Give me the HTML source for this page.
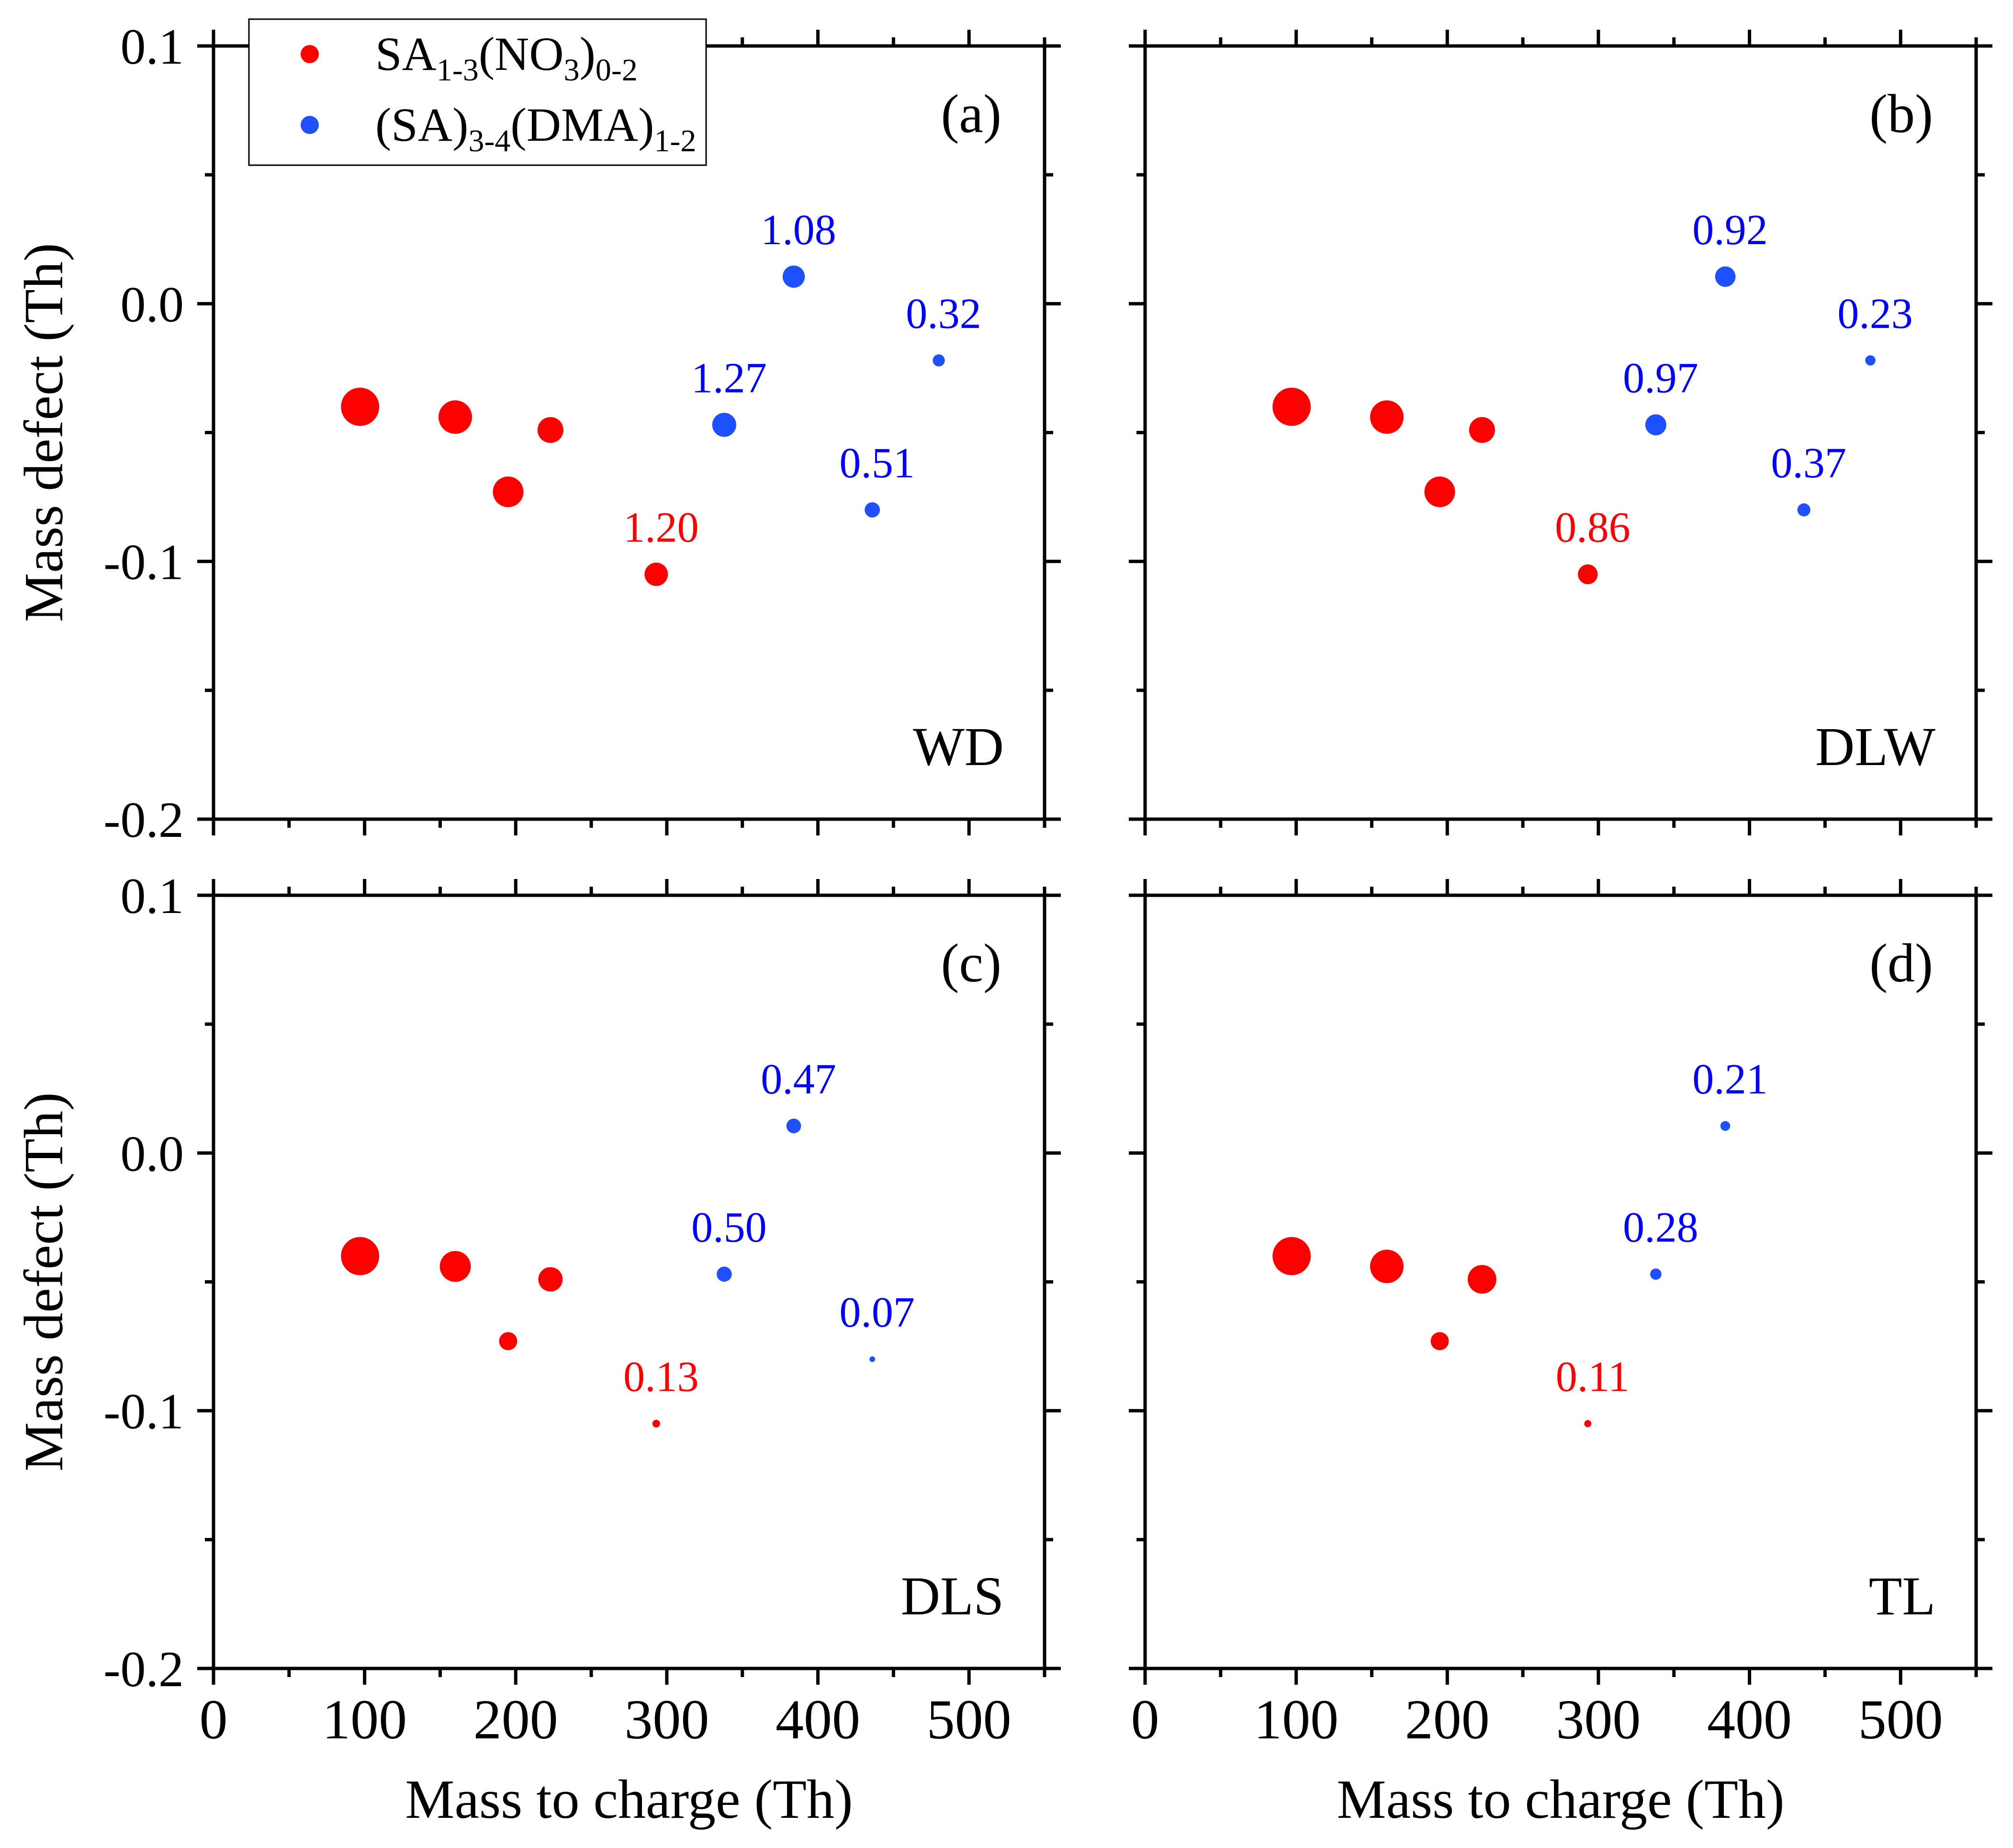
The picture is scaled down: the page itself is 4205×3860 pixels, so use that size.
<!DOCTYPE html>
<html><head><meta charset="utf-8"><title>Mass defect plots</title>
<style>html,body{margin:0;padding:0;background:#fff}svg{display:block}text{font-family:"Liberation Serif","Times New Roman",serif}</style>
</head><body>
<svg id="fig" width="4205" height="3860" viewBox="0 0 4205 3860" xmlns="http://www.w3.org/2000/svg" font-family="Liberation Serif, serif">
<g id="legend">
  <rect x="520" y="40" width="955" height="305" fill="#fff" stroke="#000" stroke-width="3"/>
  <circle cx="647" cy="113" r="19" fill="#ff0000"/>
  <text x="784" y="146" font-size="100">SA<tspan font-size="66" dy="22">1-3</tspan><tspan dy="-22">(NO</tspan><tspan font-size="66" dy="22">3</tspan><tspan dy="-22">)</tspan><tspan font-size="66" dy="22">0-2</tspan></text>
  <circle cx="647" cy="261" r="19" fill="#1e50ff"/>
  <text x="784" y="294" font-size="100">(SA)<tspan font-size="66" dy="22">3-4</tspan><tspan dy="-22">(DMA)</tspan><tspan font-size="66" dy="22">1-2</tspan></text>
</g>
</svg>
<script>
// ---- data ----
const mzValues = [97, 160, 195, 223, 293, 338, 384, 436, 480];
const massDefects = [-0.040, -0.044, -0.073, -0.049, -0.105, -0.047, 0.0105, -0.080, -0.022];
const seriesGroup = ['red','red','red','red','red','blue','blue','blue','blue'];
const valuesA = [3.2, 2.46, 2.06, 1.47, 1.20, 1.27, 1.08, 0.51, 0.32];
const valuesB = [3.2, 2.46, 2.06, 1.47, 0.86, 0.97, 0.92, 0.37, 0.23];
const valuesC = [3.2, 2.1, 0.72, 1.3, 0.13, 0.50, 0.47, 0.07, 0];
const valuesD = [3.2, 2.46, 0.72, 1.8, 0.11, 0.28, 0.21, 0, 0];
const labeledA = [false,false,false,false,true,true,true,true,true];
const labeledB = [false,false,false,false,true,true,true,true,true];
const labeledC = [false,false,false,false,true,true,true,true,false];
const labeledD = [false,false,false,false,true,true,true,false,false];
const xTickLabels = ['0','100','200','300','400','500'];
const yTickLabels = ['0.1','0.0','-0.1','-0.2'];
const panelNames = ['(a)','(b)','(c)','(d)'];
const siteNames = ['WD','DLW','DLS','TL'];

// ---- layout ----
const NS = 'http://www.w3.org/2000/svg';
const svg = document.getElementById('fig');
const legend = document.getElementById('legend');
const PW = 1736, PH = 1615;
const panels = [
  {x:446, y:96, vals:valuesA, lab:labeledA, ylab:true, xlab:false},
  {x:2392, y:96, vals:valuesB, lab:labeledB, ylab:false, xlab:false},
  {x:446, y:1870, vals:valuesC, lab:labeledC, ylab:true, xlab:true},
  {x:2392, y:1870, vals:valuesD, lab:labeledD, ylab:false, xlab:true}
];
const XMIN = 0, XMAX = 550, YMIN = -0.2, YMAX = 0.1;
const colors = {red:'#ff0000', blue:'#1e50ff'};
const textColors = {red:'#ff0000', blue:'#0000ff'};

function mk(tag, attrs, parent){
  const e = document.createElementNS(NS, tag);
  for (const k in attrs) e.setAttribute(k, attrs[k]);
  parent.appendChild(e);
  return e;
}

panels.forEach((p, pi) => {
  const sx = v => p.x + (v - XMIN) / (XMAX - XMIN) * PW;
  const sy = v => p.y + (YMAX - v) / (YMAX - YMIN) * PH;
  const g = mk('g', {}, svg);
  
  
  const L = p.x, R = p.x + PW, T = p.y, B = p.y + PH;
  const frame = mk('rect', {x:L, y:T, width:PW, height:PH, fill:'none', stroke:'#000', 'stroke-width':7}, g);
  
  
  for (let v = 0; v <= 550; v += 50) {
    const major = v % 100 === 0;
    const len = major ? 34 : 18;
    const x = sx(v);
    const tb = mk('line', {x1:x, y1:B, x2:x, y2:B+len, stroke:'#000', 'stroke-width':7}, g);
    
    
    const tt = mk('line', {x1:x, y1:T, x2:x, y2:T-len, stroke:'#000', 'stroke-width':7}, g);
    
    
  }
  for (let k = 0; k <= 6; k++) {
    const v = YMAX - k * 0.05;
    const major = k % 2 === 0;
    const len = major ? 34 : 18;
    const y = sy(v);
    const tl = mk('line', {x1:L, y1:y, x2:L-len, y2:y, stroke:'#000', 'stroke-width':7}, g);
    
    
    const tr = mk('line', {x1:R, y1:y, x2:R+len, y2:y, stroke:'#000', 'stroke-width':7}, g);
    
    
  }
  if (p.ylab) {
    yTickLabels.forEach((s, i) => {
      const t = mk('text', {x:L-62, y:sy(YMAX - i*0.1)+37, 'font-size':106, 'text-anchor':'end'}, g);
      t.textContent = s;
      
      
    });
    const yt = mk('text', {x:0, y:0, 'font-size':116, 'text-anchor':'middle', transform:'translate(130,' + (T+PH/2) + ') rotate(-90)'}, g);
    yt.textContent = 'Mass defect (Th)';
    
    
  }
  if (p.xlab) {
    xTickLabels.forEach((s, i) => {
      const t = mk('text', {x:sx(i*100), y:B+146, 'font-size':118, 'text-anchor':'middle'}, g);
      t.textContent = s;
      
      
    });
    const xt = mk('text', {x:L+PW/2, y:B+312, 'font-size':116, 'text-anchor':'middle'}, g);
    xt.textContent = 'Mass to charge (Th)';
    
    
  }
  mzValues.forEach((m, i) => {
    const v = p.vals[i];
    if (v <= 0) return;
    const c = mk('circle', {cx:sx(m), cy:sy(massDefects[i]), r:22.3*Math.sqrt(v), fill:colors[seriesGroup[i]]}, g);
    
    
    if (p.lab[i]) {
      const t = mk('text', {x:sx(m)+10, y:sy(massDefects[i])-68, 'font-size':90, 'text-anchor':'middle', fill:textColors[seriesGroup[i]]}, g);
      t.textContent = v.toFixed(2);
      
      
    }
  });
  const pl = mk('text', {x:R-90, y:T+180, 'font-size':114, 'text-anchor':'end'}, g);
  pl.textContent = panelNames[pi];
  
  
  const sl = mk('text', {x:R-85, y:B-113, 'font-size':114, 'text-anchor':'end'}, g);
  sl.textContent = siteNames[pi];
  
  
});
svg.appendChild(legend);
</script>
</body></html>
